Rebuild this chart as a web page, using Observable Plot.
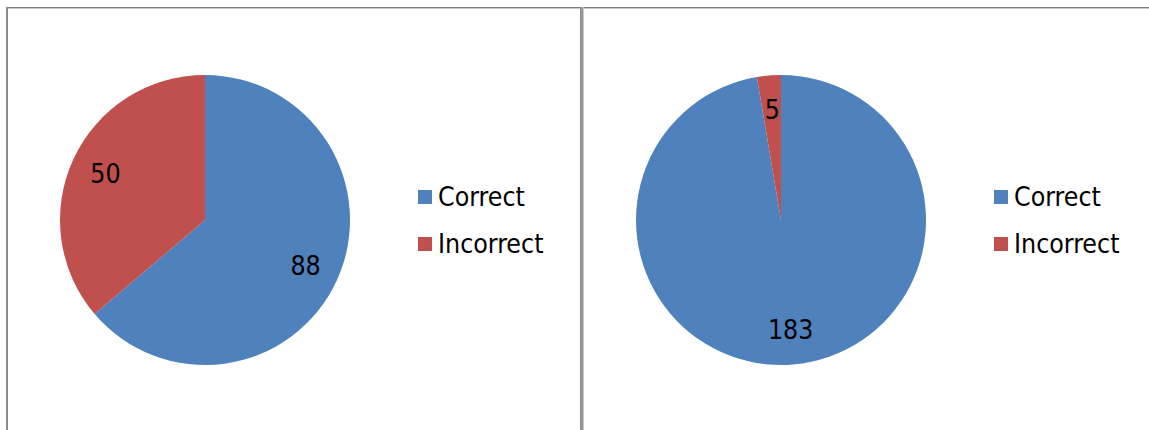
<!DOCTYPE html>
<html>
<head>
<meta charset="utf-8">
<script src="https://cdn.jsdelivr.net/npm/d3@7"></script>
<script src="https://cdn.jsdelivr.net/npm/@observablehq/plot@0.6"></script>
<style>
  html, body { margin: 0; padding: 0; background: #fff; }
  #page { position: relative; width: 1149px; height: 430px; overflow: hidden; background: #fff;
          font-family: "DejaVu Sans Condensed", "DejaVu Sans", sans-serif; }
  .frame-top { position: absolute; left: 6px; top: 7px; width: 1143px; height: 1px; background: #7f7f7f; }
  .frame-top2 { position: absolute; left: 6px; top: 8px; width: 1143px; height: 1px; background: #c8c8c8; }
  .frame-left { position: absolute; left: 6px; top: 7px; width: 2px; height: 423px; background: #8a8a8a; }
  .divider { position: absolute; left: 580px; top: 7px; width: 4px; height: 423px;
             background: linear-gradient(to right, #8a8a8a 0 1px, #9a9a9a 1px 3px, #c8c8c8 3px 4px); }
  .panel { position: absolute; top: 9px; height: 421px; }
  .panel svg { display: block; }
  .legend { position: absolute; left: 410px; top: 181px; }
  .legend .item { position: absolute; left: 0; display: flex; align-items: center; height: 14px; white-space: nowrap; }
  .legend .sw { width: 14px; height: 14px; flex: none; }
  .legend .lab { margin-left: 6px; font-size: 26.5px; line-height: 1; color: #000; }
</style>
</head>
<body>
<div id="page">
  <div class="frame-top"></div>
  <div class="frame-top2"></div>
  <div class="frame-left"></div>
  <div class="divider"></div>
</div>
<script>
// Answer categories and their colours
const categories = ["Correct", "Incorrect"];
const colors = ["#4F81BD", "#C0504D"];

// Counts for each of the two pies
const leftValues = [88, 50];
const rightValues = [183, 5];

const page = document.getElementById("page");

function piePanel(values, left, width) {
  const rows = categories.map((c, i) => ({category: c, value: values[i]}));
  const slices = d3.pie().sort(null).value(d => d.value)(rows);
  const labelR = 0.76;
  const mid = d => (d.startAngle + d.endAngle) / 2;

  const chart = Plot.plot({
    width,
    height: 421,
    marginLeft: 52,
    marginRight: width - 342,
    marginTop: 66,
    marginBottom: 65,
    x: {domain: [-1, 1], axis: null},
    y: {domain: [-1, 1], axis: null},
    color: {domain: categories, range: colors},
    style: {fontFamily: "'DejaVu Sans Condensed', 'DejaVu Sans', sans-serif", background: "transparent"},
    marks: [
      // pie slices, drawn with d3.arc at the radius given by the x scale
      Plot.dot(slices, {
        x: () => 0,
        y: () => 0,
        fill: d => d.data.category,
        render: (index, scales, vals) => {
          const cx = scales.x(0), cy = scales.y(0);
          const r = scales.x(1) - cx;
          const arc = d3.arc().innerRadius(0).outerRadius(r);
          const g = d3.create("svg:g").attr("transform", `translate(${cx},${cy})`);
          g.selectAll("path").data(index).join("path")
            .attr("d", i => arc(slices[i]))
            .attr("fill", i => vals.fill[i]);
          return g.node();
        }
      }),
      // value labels inside each slice
      Plot.text(slices, {
        x: d => labelR * Math.sin(mid(d)),
        y: d => labelR * Math.cos(mid(d)),
        text: d => String(d.data.value),
        fontSize: 26.5,
        fill: "#000"
      })
    ]
  });

  const panel = document.createElement("div");
  panel.className = "panel";
  panel.style.left = left + "px";
  panel.style.width = width + "px";
  panel.appendChild(chart);

  const legend = document.createElement("div");
  legend.className = "legend";
  categories.forEach((c, i) => {
    const item = document.createElement("div");
    item.className = "item";
    item.style.top = (i * 47) + "px";
    const sw = document.createElement("div");
    sw.className = "sw";
    sw.style.background = colors[i];
    const lab = document.createElement("span");
    lab.className = "lab";
    lab.textContent = c;
    item.appendChild(sw);
    item.appendChild(lab);
    legend.appendChild(item);
  });
  panel.appendChild(legend);
  page.appendChild(panel);
}

piePanel(leftValues, 8, 572);
piePanel(rightValues, 584, 565);
</script>
</body>
</html>
